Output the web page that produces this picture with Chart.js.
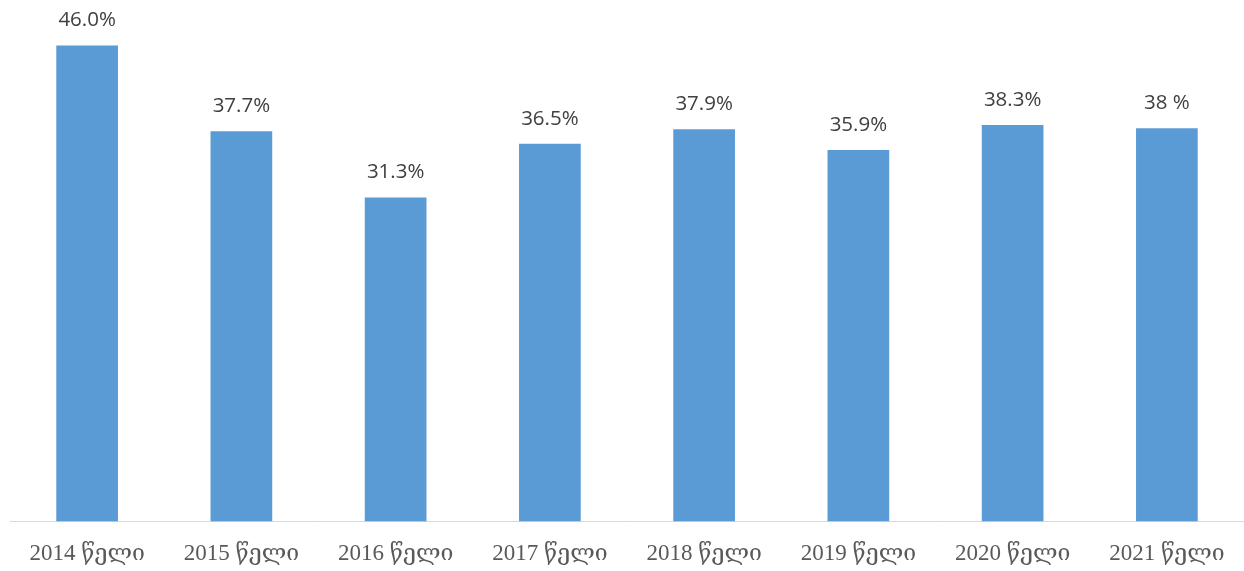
<!DOCTYPE html>
<html>
<head>
<meta charset="utf-8">
<title>Chart</title>
<script src="https://cdn.jsdelivr.net/npm/chart.js@4/dist/chart.umd.min.js"></script>
<style>
    html, body { margin: 0; padding: 0; background: #ffffff; }
    #wrap { width: 1244px; height: 571px; position: relative; }
</style>
</head>
<body>
<div id="wrap"><canvas id="chart"></canvas></div>
<script>
// Data
const categories = ['2014 წელი', '2015 წელი', '2016 წელი', '2017 წელი', '2018 წელი', '2019 წელი', '2020 წელი', '2021 წელი'];
const shares = [46.0, 37.7, 31.3, 36.5, 37.9, 35.9, 38.3, 38];
const shareLabels = ['46.0%', '37.7%', '31.3%', '36.5%', '37.9%', '35.9%', '38.3%', '38 %'];

// Draw the value text above each bar
const barLabels = {
    id: 'barLabels',
    afterDatasetsDraw(chart) {
        const ctx = chart.ctx;
        const meta = chart.getDatasetMeta(0);
        ctx.save();
        ctx.font = '20.5px "Open Sans", sans-serif';
        ctx.fillStyle = '#404040';
        ctx.textAlign = 'center';
        ctx.textBaseline = 'middle';
        meta.data.forEach(function(bar, i) {
            ctx.fillText(shareLabels[i], bar.x, bar.y - 25);
        });
        ctx.restore();
    }
};

const ctx = document.getElementById('chart').getContext('2d');
new Chart(ctx, {
    type: 'bar',
    data: {
        labels: categories,
        datasets: [{
            data: shares,
            backgroundColor: '#5B9BD5',
            barPercentage: 0.4,
            categoryPercentage: 1.0
        }]
    },
    options: {
        responsive: true,
        maintainAspectRatio: false,
        animation: false,
        layout: { padding: { left: 10, right: 0, top: 4, bottom: 0 } },
        plugins: {
            legend: { display: false },
            tooltip: { enabled: false }
        },
        scales: {
            x: {
                grid: { display: false, drawTicks: false },
                border: { display: true, color: '#d9d9d9', width: 1 },
                ticks: {
                    padding: 19,
                    color: '#595959',
                    font: { family: '"Liberation Serif", "DejaVu Serif", serif', size: 23 }
                },
                // keep the axis band fixed so the baseline sits where the reference has it
                afterFit: function(scale) { scale.height = 49.5; }
            },
            y: {
                display: false,
                min: 0,
                max: 50
            }
        }
    },
    plugins: [barLabels]
});
</script>
</body>
</html>
